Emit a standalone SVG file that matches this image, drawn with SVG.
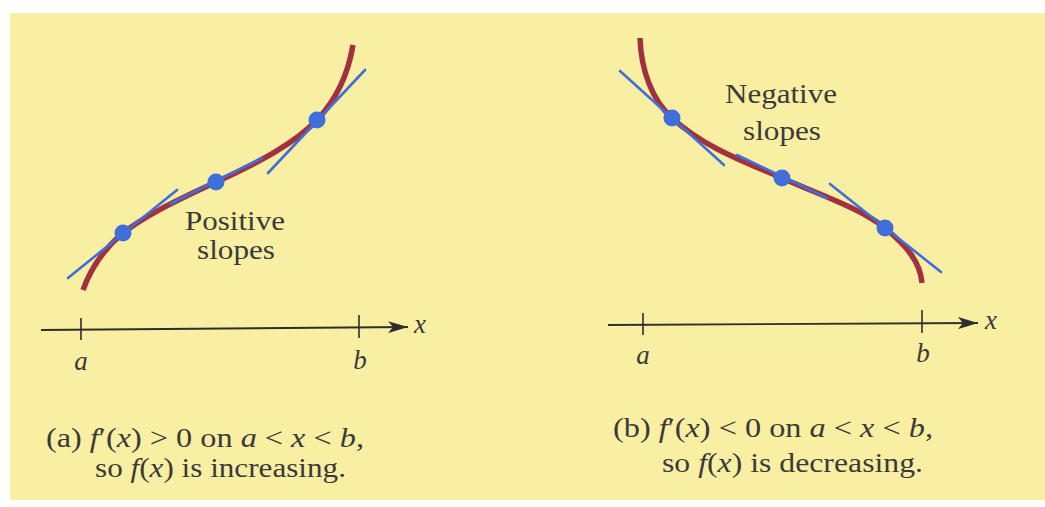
<svg xmlns="http://www.w3.org/2000/svg" width="1045" height="507" viewBox="0 0 1045 507">
<style>
.bg{fill:#F9EFA2}
.curve{fill:none;stroke:#A3303F;stroke-width:5.5;stroke-linecap:butt}
.tan{stroke:#3E6FDA;stroke-width:2.6;stroke-linecap:round}
.pt{fill:#3E6FDA}
.axis{stroke:#2E2E2E;stroke-width:1.8;fill:none}
.tick{stroke:#2E2E2E;stroke-width:1.6}
text{font-family:'Times New Roman','Liberation Serif',Tinos,serif;fill:#3A3A3A;font-size:27px}
.i{font-style:italic}
</style>
<defs>
<marker id="arr" viewBox="0 0 20 12" refX="20" refY="6" markerWidth="20" markerHeight="12" markerUnits="userSpaceOnUse" orient="auto">
<path d="M0,0 L20,6 L0,12 L5,6 Z" fill="#2E2E2E"/>
</marker>
</defs>
<rect width="1045" height="507" fill="#FFFFFF"/>
<rect class="bg" x="10" y="13" width="1035" height="487"/>

<g id="panel-a">
<g id="curve-a">
<path class="curve" d="M83,290 C92,265 105,248 123,233 C150,212 185,197 216,182 C260,162 295,143 317,120 C335,101 348,75 353,45"/>
</g>
<g id="tangents-a">
<line class="tan" x1="68" y1="278" x2="177" y2="190"/>
<line class="tan" x1="170" y1="204" x2="262" y2="158"/>
<line class="tan" x1="268" y1="173" x2="365" y2="70"/>
<circle class="pt" cx="123" cy="233" r="8.5"/>
<circle class="pt" cx="216" cy="182" r="8.5"/>
<circle class="pt" cx="317" cy="120" r="8.5"/>
</g>
<g id="label-a">
<text x="235" y="230" text-anchor="middle" textLength="100" lengthAdjust="spacingAndGlyphs">Positive</text>
<text x="236" y="259" text-anchor="middle" textLength="78" lengthAdjust="spacingAndGlyphs">slopes</text>
</g>
<g id="axis-a">
<line class="axis" x1="41" y1="330" x2="408" y2="327" marker-end="url(#arr)"/>
<line class="tick" x1="81" y1="318" x2="81" y2="340"/>
<line class="tick" x1="359" y1="315" x2="359" y2="338"/>
<text class="i" x="420" y="333" text-anchor="middle">x</text>
<text class="i" x="81" y="370" text-anchor="middle">a</text>
<text class="i" x="360" y="369" text-anchor="middle">b</text>
</g>
<g id="caption-a">
<text x="46" y="447" textLength="318" lengthAdjust="spacingAndGlyphs">(a) <tspan class="i">f</tspan>′(<tspan class="i">x</tspan>) &gt; 0 on <tspan class="i">a</tspan> &lt; <tspan class="i">x</tspan> &lt; <tspan class="i">b</tspan>,</text>
<text x="95" y="477" textLength="251" lengthAdjust="spacingAndGlyphs">so <tspan class="i">f</tspan>(<tspan class="i">x</tspan>) is increasing.</text>
</g>
</g>

<g id="panel-b">
<g id="curve-b">
<path class="curve" d="M640,38 C641,70 652,100 672,118 C705,148 745,162 782,178 C820,195 860,208 885,228 C905,245 920,260 922,283"/>
</g>
<g id="tangents-b">
<line class="tan" x1="620" y1="71" x2="724" y2="165"/>
<line class="tan" x1="737" y1="155" x2="827" y2="198"/>
<line class="tan" x1="830" y1="184" x2="941" y2="272"/>
<circle class="pt" cx="672" cy="118" r="8.5"/>
<circle class="pt" cx="782" cy="178" r="8.5"/>
<circle class="pt" cx="885" cy="228" r="8.5"/>
</g>
<g id="label-b">
<text x="781" y="103" text-anchor="middle" textLength="112" lengthAdjust="spacingAndGlyphs">Negative</text>
<text x="782" y="140" text-anchor="middle" textLength="78" lengthAdjust="spacingAndGlyphs">slopes</text>
</g>
<g id="axis-b">
<line class="axis" x1="608" y1="325" x2="978" y2="323" marker-end="url(#arr)"/>
<line class="tick" x1="643" y1="313" x2="643" y2="335"/>
<line class="tick" x1="922" y1="310" x2="922" y2="333"/>
<text class="i" x="991" y="329" text-anchor="middle">x</text>
<text class="i" x="643" y="364" text-anchor="middle">a</text>
<text class="i" x="923" y="362" text-anchor="middle">b</text>
</g>
<g id="caption-b">
<text x="613" y="437" textLength="320" lengthAdjust="spacingAndGlyphs">(b) <tspan class="i">f</tspan>′(<tspan class="i">x</tspan>) &lt; 0 on <tspan class="i">a</tspan> &lt; <tspan class="i">x</tspan> &lt; <tspan class="i">b</tspan>,</text>
<text x="662" y="472" textLength="261" lengthAdjust="spacingAndGlyphs">so <tspan class="i">f</tspan>(<tspan class="i">x</tspan>) is decreasing.</text>
</g>
</g>
</svg>
